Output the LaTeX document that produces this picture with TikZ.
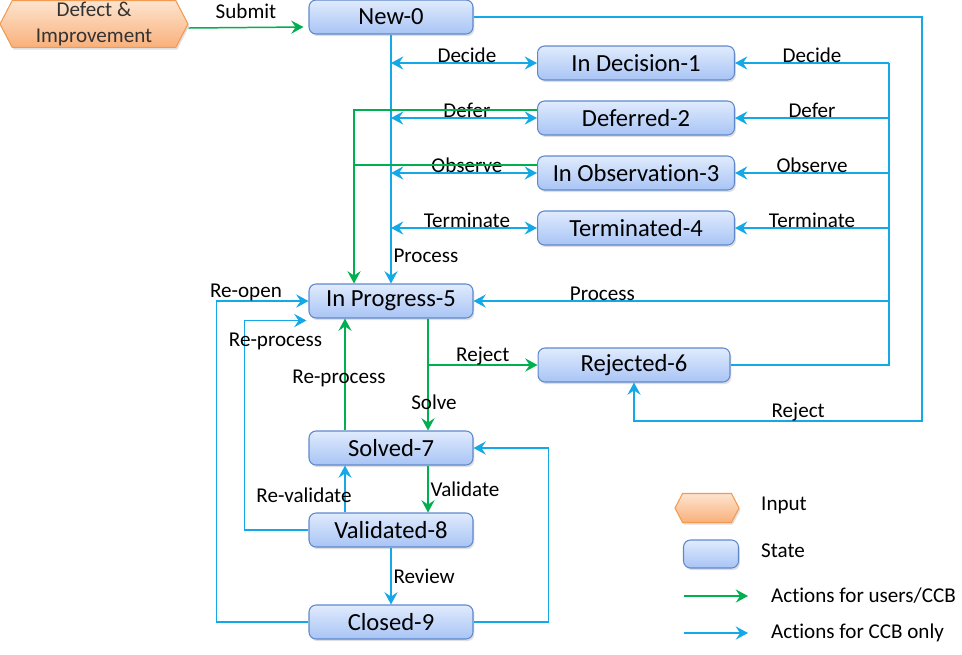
\documentclass[tikz,border=0pt]{standalone}
\usepackage{fontspec}
\setmainfont{Carlito}[Ligatures=NoCommon]
\usetikzlibrary{calc, arrows.meta, shapes.symbols, shadows}
\definecolor{usergreen}{HTML}{00B050}
\definecolor{ccbblue}{HTML}{14A8E6}
\definecolor{statetop}{HTML}{E0EBFD}
\definecolor{statebot}{HTML}{A8C4F5}
\definecolor{stateedge}{HTML}{5F88CC}
\definecolor{inputtop}{HTML}{FDE4CF}
\definecolor{inputbot}{HTML}{F9B07A}
\definecolor{inputedge}{HTML}{F39A52}

\begin{document}
\begin{tikzpicture}[x=0.02cm, y=-0.02cm, font=\fontsize{12}{14}\selectfont,
  >={Stealth[length=7pt, width=7.5pt, inset=2.5pt]},
  statebox/.style={draw=stateedge, line width=0.6pt, rounded corners=4pt,
    top color=statetop, bottom color=statebot,
    minimum width=3.28cm, minimum height=0.68cm,
    drop shadow={shadow xshift=0.8pt, shadow yshift=-1.2pt, opacity=0.25},
    font=\fontsize{14}{16}\selectfont},
  inputbox/.style={signal, signal to=west and east, signal pointer angle=125,
    draw=inputedge, line width=0.6pt, top color=inputtop, bottom color=inputbot,
    drop shadow={shadow xshift=0.8pt, shadow yshift=-1.2pt, opacity=0.25},
    text=black!80, align=center, inner sep=1pt},
  over/.style={above, inner sep=0pt, yshift=-0.5pt},
  aside/.style={right, inner sep=1pt},
  user/.style={draw=usergreen, line width=0.85pt},
  ccb/.style={draw=ccbblue, line width=0.85pt}]
  \useasboundingbox (0,0) rectangle (962,654);

  % states
  \node[inputbox, minimum width=3.76cm, minimum height=0.9cm,
    font=\fontsize{12}{14.5}\selectfont] (inp) at (94,24) {Defect \&\\Improvement};
  \node[statebox] (new)  at (391,17)  {New-0};
  \node[statebox, minimum width=3.94cm] (dec)  at (636,63)  {In Decision-1};
  \node[statebox, minimum width=3.94cm] (def)  at (636,118) {Deferred-2};
  \node[statebox, minimum width=3.94cm] (obs)  at (636,173) {In Observation-3};
  \node[statebox, minimum width=3.94cm] (term) at (636,228) {Terminated-4};
  \node[statebox] (prog) at (391,301) {In Progress-5};
  \node[statebox, minimum width=3.84cm] (rej)  at (634,365) {Rejected-6};
  \node[statebox] (solv) at (391,448) {Solved-7};
  \node[statebox] (vali) at (391,530) {Validated-8};
  \node[statebox] (clos) at (391,622) {Closed-9};

  \coordinate (bus)   at (889,0);
  \coordinate (outer) at (922,421);
  \coordinate (grn)   at ($(prog.north)+(-37,0)$);
  \coordinate (sv)    at ($(prog.south)+(37,0)$);

  % submit
  \draw[user, ->] ($(inp.east)+(0,4)$) -- node[above, yshift=1.5pt] {Submit} ($(new.west)+(-5,10)$);

  % from New-0
  \draw[ccb, ->] (new.south) -- node[aside, pos=0.89] {Process} (prog.north);
  \foreach \s/\t in {dec/Decide, def/Defer, obs/Observe, term/Terminate} {
    \draw[ccb, <->] (new.south |- \s.west) -- node[over, pos=0.52] {\t} (\s.west);
    \draw[ccb, ->] (bus |- \s.east) -- node[over] {\t} (\s.east);
  }
  \draw[ccb, ->] (new.east) -| (outer) -| node[over, pos=0.215] {Reject} (rej.south);

  % back to In Progress-5
  \draw[user, ->] ($(def.west)+(0,-8)$) -| (grn);
  \draw[user] ($(obs.west)+(0,-8)$) -- (grn |- {$(obs.west)+(0,-8)$});
  \draw[ccb] (bus |- dec.east) -- (bus |- prog.east);
  \draw[ccb, ->] (bus |- prog.east) -- node[over, pos=0.69] {Process} (prog.east);
  \draw[ccb] (rej.east) -| (bus |- prog.east);

  % In Progress-5 and below
  \draw[user, ->] (sv) -- node[pos=0.75, xshift=0.12cm] {Solve} (sv |- solv.north);
  \draw[user, ->] (sv |- rej.west) -- node[over] {Reject} (rej.west);
  \draw[user, ->] ($(solv.north)+(-46,0)$) -- node[xshift=-0.12cm, yshift=-0.08cm] {Re-process} ($(prog.south)+(-46,0)$);
  \draw[user, ->] ($(solv.south)+(37,0)$) -- node[aside] {Validate} ($(vali.north)+(37,0)$);
  \draw[ccb, ->] ($(vali.north)+(-46,0)$) -- node[xshift=-0.82cm, yshift=-0.12cm] {Re-validate} ($(solv.south)+(-46,0)$);
  \draw[ccb, ->] (vali.south) -- node[aside] {Review} (clos.north);
  \draw[ccb, ->] (vali.west) -- ++(-64,0) |- node[below, pos=0.75, yshift=-3.4pt] {Re-process} ($(prog.south west)+(-2,2)$);
  \draw[ccb, ->] (clos.west) -- ++(-92,0) |- node[over, pos=0.66] {Re-open} (prog.west);
  \draw[ccb, ->] (clos.east) -- ++(75,0) |- (solv.east);

  % legend
  \node[inputbox, minimum width=1.28cm, minimum height=0.58cm] (lgin) at (707,508) {};
  \node[anchor=west] (lgint) at (755,505) {Input};
  \node[statebox, minimum width=1.1cm, minimum height=0.56cm] (lgst) at (711,554) {};
  \node[anchor=west] (lgstt) at (755,551) {State};
  \coordinate (ga) at (684,596);
  \coordinate (ba) at (684,633);
  \draw[user, ->] (ga) -- ++(64,0);
  \draw[ccb, ->] (ba) -- ++(64,0);
  \node[anchor=west] (lgu) at (765,596) {Actions for users/CCB};
  \node[anchor=west] (lgc) at (765,633) {Actions for CCB only};
\end{tikzpicture}
\end{document}
